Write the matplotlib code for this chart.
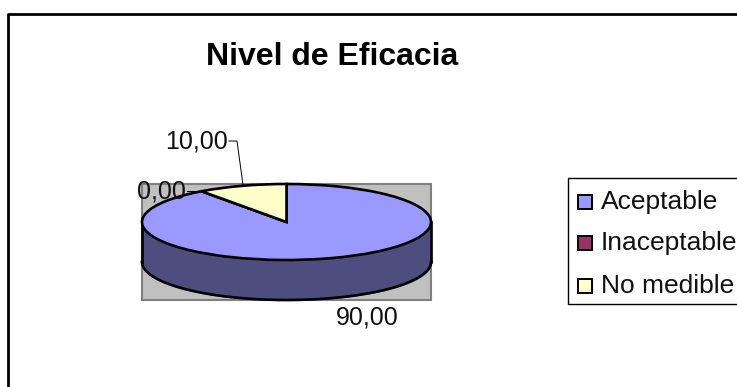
import matplotlib

matplotlib.use("Agg")
import matplotlib.pyplot as plt
import numpy as np
from matplotlib.patches import Rectangle

plt.rcParams["font.family"] = ["Liberation Sans", "DejaVu Sans"]

TITLE = "Nivel de Eficacia"
CATEGORIES = ["Aceptable", "Inaceptable", "No medible"]
VALUES = [90.0, 0.0, 10.0]
COLORS = ["#9999FF", "#993366", "#FFFFCC"]

WIDTH, HEIGHT = 737, 387
WALL_COLOR = "#4D4D80"
BACK_COLOR = "#C0C0C0"
BACK_EDGE = "#808080"

# top face of the disc, in pixels from the top-left corner
LEFT, RIGHT = 142, 431
TOP, BOTTOM = 184, 260
DEPTH = 40 / 38  # wall height in units of the squashed radius
EDGE_LW = 1.9


def pixel_rect(x0, y0, x1, y1):
    return [x0 / WIDTH, 1 - y1 / HEIGHT, (x1 - x0) / WIDTH, (y1 - y0) / HEIGHT]


def comma(value):
    return f"{value:.2f}".replace(".", ",")


fig = plt.figure(figsize=(WIDTH / 100, HEIGHT / 100), dpi=100)

# squashed pie: a circle on an axes with free aspect comes out as an ellipse
ax = fig.add_axes(pixel_rect(LEFT, TOP, RIGHT, BOTTOM), zorder=1)
ax.pie(
    VALUES,
    colors=COLORS,
    startangle=90,
    counterclock=False,
    wedgeprops={"edgecolor": "black", "linewidth": EDGE_LW, "zorder": 3},
)
ax.set_aspect("auto")
ax.set_xlim(-1, 1)
ax.set_ylim(-1, 1)
ax.axis("off")

ax.add_patch(
    Rectangle(
        (-1, -1 - DEPTH), 2, 2 + DEPTH,
        facecolor=BACK_COLOR, edgecolor=BACK_EDGE, linewidth=1.5,
        clip_on=False, zorder=0,
    )
)

t = np.linspace(np.pi, 2 * np.pi, 200)
rim_x, rim_y = np.cos(t), np.sin(t)
ax.fill_between(rim_x, rim_y - DEPTH, rim_y, color=WALL_COLOR, clip_on=False, zorder=1)
ax.plot(rim_x, rim_y - DEPTH, color="black", lw=EDGE_LW, clip_on=False, zorder=2)
ax.plot([-1, -1], [0, -DEPTH], color="black", lw=EDGE_LW, clip_on=False, zorder=2)
ax.plot([1, 1], [0, -DEPTH], color="black", lw=EDGE_LW, clip_on=False, zorder=2)

# everything else lives on a full-figure axes measured in pixels
over = fig.add_axes([0, 0, 1, 1], zorder=2)
over.set_xlim(0, WIDTH)
over.set_ylim(HEIGHT, 0)
over.axis("off")

# chart frame runs off the right and bottom edges
over.plot([8, 8, WIDTH + 5], [HEIGHT + 5, 14, 14], color="black", lw=2.0, clip_on=True)

over.text(332, 57, TITLE, fontsize=23, fontweight="bold", ha="center", va="center")

# data labels and their leader lines
over.text(367, 318, comma(VALUES[0]), fontsize=18, ha="center", va="center", color="#111111")
over.text(161, 192, comma(VALUES[1]), fontsize=18, ha="center", va="center", color="#111111")
over.text(197, 142, comma(VALUES[2]), fontsize=18, ha="center", va="center", color="#111111")
over.plot([187, 201], [191, 191], color="black", lw=0.7)
over.plot([229, 237, 243], [141, 141, 185], color="black", lw=0.7)

# legend box, cut off by the right edge
over.add_patch(
    Rectangle((568, 178), WIDTH - 568 + 5, 126, facecolor="white", edgecolor="black", linewidth=1.0)
)
for name, color, y in zip(CATEGORIES, COLORS, [202, 243, 286]):
    over.add_patch(Rectangle((578, y - 7), 14, 14, facecolor=color, edgecolor="black", linewidth=1.4))
    over.text(601, y, name, fontsize=19.0, ha="left", va="center", color="#111111")

fig.savefig("out.png", dpi=100)
plt.close(fig)
